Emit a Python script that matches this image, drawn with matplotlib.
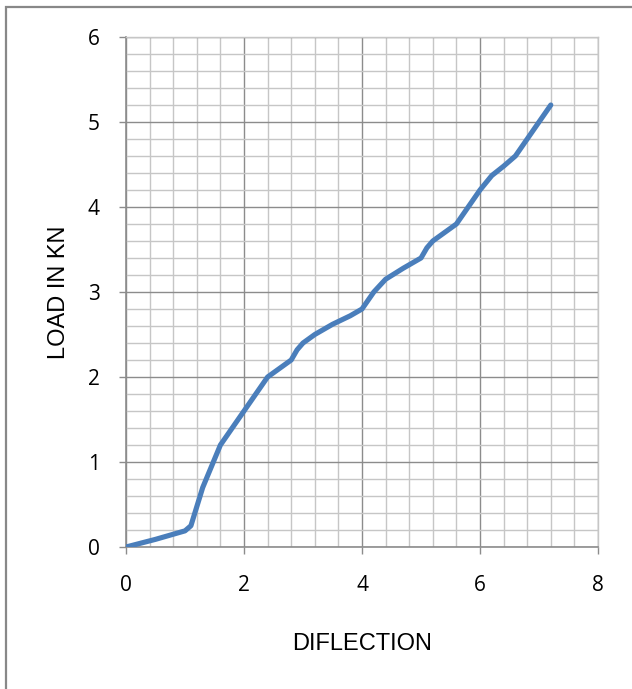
import matplotlib.pyplot as plt
from matplotlib.ticker import MultipleLocator
from matplotlib.patches import Rectangle

# --- DATA ---
deflection = [0, 0.5, 0.8, 1.0, 1.1, 1.3, 1.6, 2.0, 2.4, 2.6, 2.8, 2.9, 3.0, 3.2,
              3.5, 3.8, 4.0, 4.1, 4.2, 4.4, 4.7, 5.0, 5.1, 5.2, 5.4, 5.6,
              5.8, 6.0, 6.2, 6.4, 6.6, 6.8, 7.0, 7.2]
load = [0, 0.09, 0.15, 0.19, 0.25, 0.7, 1.2, 1.6, 2.0, 2.1, 2.2, 2.32, 2.4, 2.5,
        2.62, 2.72, 2.8, 2.9, 3.0, 3.15, 3.28, 3.4, 3.52, 3.6, 3.7, 3.8,
        4.0, 4.2, 4.37, 4.48, 4.6, 4.8, 5.0, 5.2]

x_ticks = [0, 2, 4, 6, 8]
y_ticks = [0, 1, 2, 3, 4, 5, 6]

# --- STYLE ---
LINE_BLUE = '#4a7ebb'
MAJOR_GRID = '#8c8c8c'
MINOR_GRID = '#c6c6c6'
TICK_FONT = 'Open Sans'
LABEL_FONT = 'Liberation Sans'

fig = plt.figure(figsize=(6.32, 6.89), dpi=100)
ax = fig.add_axes([0.1994, 0.2061, 0.7468, 0.7402])

ax.plot(deflection, load, color=LINE_BLUE, linewidth=3.7,
        solid_joinstyle='round', solid_capstyle='round', zorder=3)

ax.set_xlim(0, 8)
ax.set_ylim(0, 6)
ax.set_xticks(x_ticks)
ax.set_yticks(y_ticks)
ax.xaxis.set_minor_locator(MultipleLocator(0.4))
ax.yaxis.set_minor_locator(MultipleLocator(0.2))

ax.grid(which='major', color=MAJOR_GRID, linewidth=1.0, zorder=1)
ax.grid(which='minor', color=MINOR_GRID, linewidth=1.0, zorder=0)
ax.set_axisbelow(True)

for side in ['top', 'right']:
    ax.spines[side].set_color(MINOR_GRID)
    ax.spines[side].set_linewidth(1.0)
for side in ['left', 'bottom']:
    ax.spines[side].set_color(MAJOR_GRID)
    ax.spines[side].set_linewidth(1.2)

ax.tick_params(which='major', direction='out', length=5, width=1,
               color=MAJOR_GRID, labelsize=15)
ax.tick_params(which='minor', length=0)
for lbl in ax.get_xticklabels() + ax.get_yticklabels():
    lbl.set_fontfamily(TICK_FONT)
ax.tick_params(axis='x', pad=15)
ax.tick_params(axis='y', pad=14)

ax.set_xlabel('DIFLECTION', fontsize=17, fontfamily=LABEL_FONT, labelpad=27)
ax.set_ylabel('LOAD IN KN', fontsize=17, fontfamily=LABEL_FONT, labelpad=13)

# chart border
fig.patches.append(Rectangle((6 / 632, -0.1), 1.2, 1.1 - 7 / 689,
                             transform=fig.transFigure, fill=False,
                             edgecolor='#888888', linewidth=1.6))

fig.savefig('out.png', dpi=100)
